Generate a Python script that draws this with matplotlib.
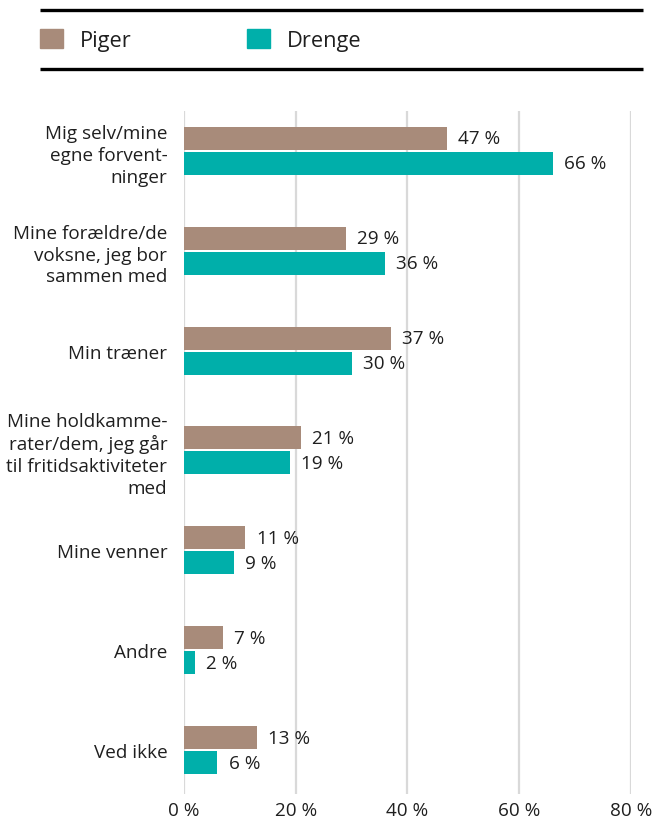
import matplotlib.pyplot as plt
from matplotlib.lines import Line2D
from matplotlib.patches import Patch


categories = [
    "Mig selv/mine\negne forvent-\nninger",
    "Mine forældre/de\nvoksne, jeg bor\nsammen med",
    "Min træner",
    "Mine holdkamme-\nrater/dem, jeg går\ntil fritidsaktiviteter\nmed",
    "Mine venner",
    "Andre",
    "Ved ikke",
]
piger = [47, 29, 37, 21, 11, 7, 13]
drenge = [66, 36, 30, 19, 9, 2, 6]
x_ticks = [0, 20, 40, 60, 80]

PIGER_COLOR = "#a88b7a"
DRENGE_COLOR = "#00afaa"
TEXT_COLOR = "#1f1f1f"
GRID_COLOR = "#d9d9d9"
FONT_SIZE = 13.6


def main() -> None:
    plt.rcParams["font.family"] = ["Open Sans", "DejaVu Sans"]

    fig = plt.figure(figsize=(6.68, 8.2), dpi=100)
    ax = fig.add_axes([0.2754, 0.0305, 0.6692, 0.833])

    positions = list(range(len(categories)))
    bar_h = 0.23
    offset = 0.125

    ax.barh([p - offset for p in positions], piger, height=bar_h,
            color=PIGER_COLOR, zorder=2)
    ax.barh([p + offset for p in positions], drenge, height=bar_h,
            color=DRENGE_COLOR, zorder=2)

    # Værdier til højre for hver søjle
    for p, v in zip(positions, piger):
        ax.annotate(f"{v} %", (v, p - offset), xytext=(8, 0),
                    textcoords="offset points", va="center", ha="left",
                    fontsize=FONT_SIZE, color=TEXT_COLOR)
    for p, v in zip(positions, drenge):
        ax.annotate(f"{v} %", (v, p + offset), xytext=(8, 0),
                    textcoords="offset points", va="center", ha="left",
                    fontsize=FONT_SIZE, color=TEXT_COLOR)

    ax.set_xlim(0, 80)
    ax.set_ylim(len(categories) - 1 + 0.44, -0.4)
    ax.set_xticks(x_ticks)
    ax.set_xticklabels([f"{t} %" for t in x_ticks])
    ax.set_yticks(positions)
    ax.set_yticklabels(categories, linespacing=1.27)

    ax.tick_params(axis="both", length=0, labelsize=FONT_SIZE,
                   labelcolor=TEXT_COLOR)
    ax.tick_params(axis="x", pad=5)
    ax.tick_params(axis="y", pad=12)
    for label in ax.get_yticklabels():
        label.set_horizontalalignment("right")
        label.set_multialignment("right")

    ax.grid(axis="x", color=GRID_COLOR, linewidth=1.6, zorder=0)
    ax.set_axisbelow(True)
    for spine in ax.spines.values():
        spine.set_visible(False)

    # Forklaring mellem to sorte streger
    handles = [Patch(color=PIGER_COLOR, label="Piger"),
               Patch(color=DRENGE_COLOR, label="Drenge")]
    fig.legend(handles=handles, loc="center left",
               bbox_to_anchor=(40 / 668, 1 - 41 / 820), ncol=2,
               frameon=False, fontsize=15.7, handlelength=1.05,
               handleheight=1.0, handletextpad=0.78, columnspacing=5.3,
               borderaxespad=0, borderpad=0, labelcolor=TEXT_COLOR)

    for y_px in (11, 70):
        y = 1 - y_px / 820
        fig.add_artist(Line2D([40 / 668, 643 / 668], [y, y],
                              transform=fig.transFigure, color="black",
                              linewidth=2.4, solid_capstyle="butt"))

    fig.savefig("out.png", dpi=100)
    plt.close(fig)


if __name__ == "__main__":
    main()
